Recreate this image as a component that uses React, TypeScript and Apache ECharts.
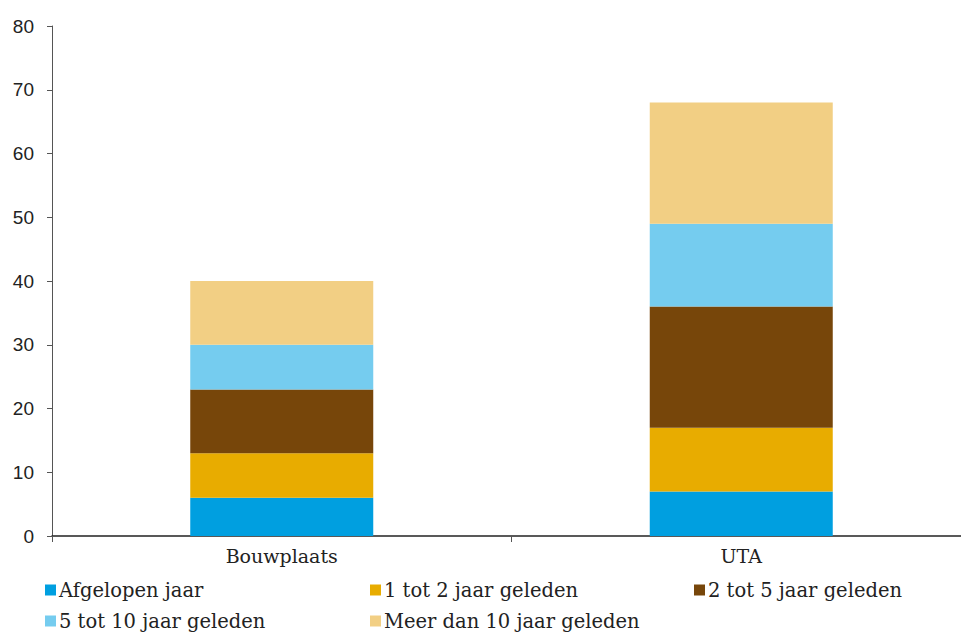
import React, { useEffect, useRef } from "react";
import * as echarts from "echarts";

const categories = ["Bouwplaats", "UTA"];
const seriesNames = [
  "Afgelopen jaar",
  "1 tot 2 jaar geleden",
  "2 tot 5 jaar geleden",
  "5 tot 10 jaar geleden",
  "Meer dan 10 jaar geleden",
];
const afgelopenJaar = [6, 7];
const tot2Jaar = [7, 10];
const tot5Jaar = [10, 19];
const tot10Jaar = [7, 13];
const meerDan10Jaar = [10, 19];
const seriesValues = [afgelopenJaar, tot2Jaar, tot5Jaar, tot10Jaar, meerDan10Jaar];
const colors = ["#009FE0", "#E8AC00", "#77460A", "#75CCEF", "#F2CF84"];

export default function App() {
  const ref = useRef<HTMLDivElement>(null);
  useEffect(() => {
    if (!ref.current) return;
    const chart = echarts.init(ref.current, undefined, { renderer: "svg" });
    const legendText = {
      fontFamily: "DejaVu Serif",
      fontSize: 19.5,
      color: "#222",
      padding: [0, 0, 0, -2],
    };
    const legendBase = {
      orient: "vertical" as const,
      top: 580,
      itemWidth: 11,
      itemHeight: 11,
      itemGap: 11,
      icon: "rect",
      textStyle: legendText,
      padding: 0,
    };
    chart.setOption({
      animation: false,
      color: colors,
      grid: { left: 52, top: 26, bottom: 97, right: 0, containLabel: false },
      legend: [
        { ...legendBase, left: 45, data: [seriesNames[0], seriesNames[3]] },
        { ...legendBase, left: 370, data: [seriesNames[1], seriesNames[4]] },
        { ...legendBase, left: 694, data: [seriesNames[2]] },
      ],
      xAxis: {
        type: "category",
        data: categories,
        axisLine: { lineStyle: { color: "#222", width: 1.5 } },
        axisTick: { show: true, length: 6, lineStyle: { color: "#555" } },
        axisLabel: {
          fontFamily: "DejaVu Serif",
          fontSize: 19,
          color: "#222",
          margin: 10,
        },
      },
      yAxis: {
        type: "value",
        min: 0,
        max: 80,
        interval: 10,
        splitLine: { show: false },
        axisLine: { show: true, lineStyle: { color: "#555" } },
        axisTick: { show: true, length: 5, lineStyle: { color: "#555" } },
        axisLabel: {
          fontFamily: "Liberation Sans",
          fontSize: 19,
          color: "#222",
          margin: 18,
        },
      },
      series: seriesNames.map((name, i) => ({
        name,
        type: "bar",
        stack: "total",
        barWidth: 183,
        data: seriesValues[i],
        itemStyle: { color: colors[i] },
      })),
    });
    return () => chart.dispose();
  }, []);
  return (
    <div style={{ position: "absolute", left: 0, top: 0, width: 961, height: 633, overflow: "hidden" }}>
      <div ref={ref} style={{ width: 971, height: 633 }} />
    </div>
  );
}
